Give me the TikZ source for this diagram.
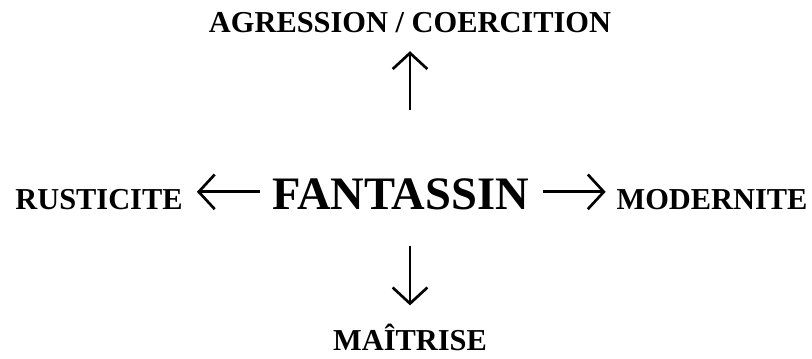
\documentclass[tikz,border=0pt]{standalone}
\usepackage{fontspec}
\setmainfont{Liberation Serif}
\usetikzlibrary{arrows.meta}
\tikzset{
  lbl/.style={font=\bfseries\fontsize{22.8}{27}\selectfont, inner sep=0pt, anchor=base},
  big/.style={lbl, font=\bfseries\fontsize{34.9}{40}\selectfont},
}
\begin{document}
\begin{tikzpicture}[x=0.75pt,y=-0.75pt]
      \useasboundingbox (0,0) rectangle (812,358);
      \draw
        (410,32) node[lbl] (agr){AGRESSION / COERCITION}
        (400.5,209) node[big] (fant){FANTASSIN}
        (99,209) node[lbl] (rus){RUSTICITE}
        (712,209) node[lbl] (mod){MODERNITE}
        (410,350) node[lbl] (mai){MAÎTRISE};
      \begin{scope}[line width=2pt, -{Straight Barb[length=12pt,width=26pt]}]
        \draw[shorten <=51pt, shorten >=14pt] (agr.south |- fant.north) to (agr.south);
        \draw[shorten <=27pt, shorten >=13.5pt] (mai.north |- fant.south) to (mai.north);
        \draw[shorten <=9pt, shorten >=10.5pt] ([yshift=1.5pt]fant.west) to ([yshift=1.5pt]fant.west -| rus.east);
        \draw[shorten <=10.5pt, shorten >=8pt] ([yshift=1.5pt]fant.east) to ([yshift=1.5pt]fant.east -| mod.west);
      \end{scope}
    \end{tikzpicture}
\end{document}
